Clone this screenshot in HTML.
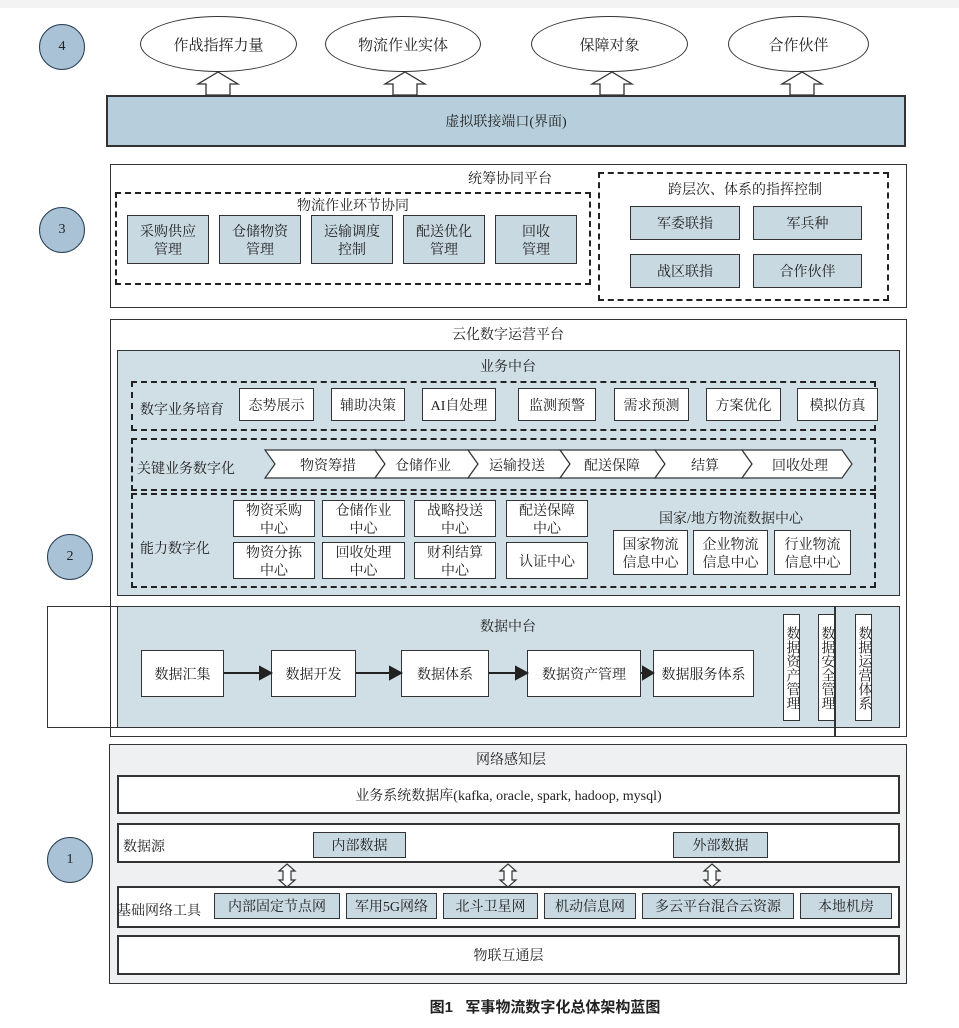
<!DOCTYPE html>
<html><head><meta charset="utf-8"><style>
*{margin:0;padding:0;box-sizing:border-box}
body{width:959px;height:1028px;background:#fff;position:relative;overflow:hidden;font-family:"Liberation Serif","Noto Serif CJK SC","Noto Sans CJK SC",serif;color:#222;font-size:14px}
.a{position:absolute}
.b{position:absolute;display:flex;align-items:center;justify-content:center;text-align:center;line-height:1.25;border:1.5px solid #333;padding-top:4px}
.f{background:#c8d9e2}
.w{background:#fff}
.d{position:absolute;border:2px dashed #222}
.t{position:absolute;transform:translateX(-50%);white-space:nowrap}
.c{position:absolute;width:46px;height:46px;border-radius:50%;background:#a9c2d6;border:1.5px solid #2a3f55;display:flex;align-items:center;justify-content:center;font-size:14px}
.e{position:absolute;border-radius:50%;border:1.5px solid #333;background:#fff;display:flex;align-items:center;justify-content:center;font-size:15px}
.v{writing-mode:vertical-rl;font-size:14px;padding-top:0;line-height:1}
svg.top{z-index:5}
</style></head><body>
<div class="a" style="left:0;top:0;width:959px;height:8px;background:#f3f3f3"></div>
<div class="c" style="left:39px;top:24px">4</div>
<div class="c" style="left:39px;top:207px">3</div>
<div class="c" style="left:47px;top:534px">2</div>
<div class="c" style="left:47px;top:837px">1</div>

<div class="e" style="left:140px;top:16px;width:157px;height:56px">作战指挥力量</div>
<div class="e" style="left:325px;top:16px;width:156px;height:56px">物流作业实体</div>
<div class="e" style="left:531px;top:16px;width:157px;height:56px">保障对象</div>
<div class="e" style="left:728px;top:16px;width:141px;height:56px">合作伙伴</div>
<div class="b" style="left:106px;top:95px;width:800px;height:52px;background:#b7cfdc;border-width:2px">虚拟联接端口(界面)</div>

<div class="b" style="left:110px;top:164px;width:797px;height:144px;background:#fff;border-width:1.5px"></div>
<div class="t" style="left:510px;top:168px">统筹协同平台</div>
<div class="d" style="left:115px;top:192px;width:476px;height:93px"></div>
<div class="t" style="left:353px;top:195px">物流作业环节协同</div>
<div class="b f" style="left:127px;top:215px;width:82px;height:49px">采购供应<br>管理</div>
<div class="b f" style="left:219px;top:215px;width:82px;height:49px">仓储物资<br>管理</div>
<div class="b f" style="left:311px;top:215px;width:82px;height:49px">运输调度<br>控制</div>
<div class="b f" style="left:403px;top:215px;width:82px;height:49px">配送优化<br>管理</div>
<div class="b f" style="left:495px;top:215px;width:82px;height:49px">回收<br>管理</div>
<div class="d" style="left:598px;top:172px;width:291px;height:129px"></div>
<div class="t" style="left:745px;top:179px">跨层次、体系的指挥控制</div>
<div class="b f" style="left:630px;top:206px;width:110px;height:34px">军委联指</div>
<div class="b f" style="left:753px;top:206px;width:109px;height:34px">军兵种</div>
<div class="b f" style="left:630px;top:254px;width:110px;height:34px">战区联指</div>
<div class="b f" style="left:753px;top:254px;width:109px;height:34px">合作伙伴</div>

<div class="b" style="left:110px;top:319px;width:797px;height:418px;background:#fff"></div>
<div class="t" style="left:508px;top:324px">云化数字运营平台</div>
<div class="b" style="left:117px;top:350px;width:783px;height:246px;background:#d0dfe6"></div>
<div class="t" style="left:508px;top:356px">业务中台</div>
<div class="d" style="left:131px;top:381px;width:745px;height:50px"></div>
<div class="a" style="left:140px;top:399px">数字业务培育</div>
<div class="b w" style="left:239px;top:388px;width:75px;height:33px">态势展示</div>
<div class="b w" style="left:331px;top:388px;width:74px;height:33px">辅助决策</div>
<div class="b w" style="left:422px;top:388px;width:74px;height:33px">AI自处理</div>
<div class="b w" style="left:518px;top:388px;width:78px;height:33px">监测预警</div>
<div class="b w" style="left:614px;top:388px;width:75px;height:33px">需求预测</div>
<div class="b w" style="left:706px;top:388px;width:75px;height:33px">方案优化</div>
<div class="b w" style="left:797px;top:388px;width:81px;height:33px">模拟仿真</div>
<div class="d" style="left:131px;top:438px;width:745px;height:53px"></div>
<div class="a" style="left:137px;top:458px">关键业务数字化</div>
<div class="d" style="left:131px;top:493px;width:745px;height:95px"></div>
<div class="a" style="left:140px;top:538px">能力数字化</div>
<div class="b w" style="left:233px;top:500px;width:82px;height:37px">物资采购<br>中心</div>
<div class="b w" style="left:322px;top:500px;width:83px;height:37px">仓储作业<br>中心</div>
<div class="b w" style="left:414px;top:500px;width:82px;height:37px">战略投送<br>中心</div>
<div class="b w" style="left:506px;top:500px;width:82px;height:37px">配送保障<br>中心</div>
<div class="b w" style="left:233px;top:542px;width:82px;height:37px">物资分拣<br>中心</div>
<div class="b w" style="left:322px;top:542px;width:83px;height:37px">回收处理<br>中心</div>
<div class="b w" style="left:414px;top:542px;width:82px;height:37px">财利结算<br>中心</div>
<div class="b w" style="left:506px;top:542px;width:82px;height:37px">认证中心</div>
<div class="t" style="left:731px;top:508px">国家/地方物流数据中心</div>
<div class="b w" style="left:613px;top:530px;width:75px;height:45px">国家物流<br>信息中心</div>
<div class="b w" style="left:693px;top:530px;width:75px;height:45px">企业物流<br>信息中心</div>
<div class="b w" style="left:774px;top:530px;width:77px;height:45px">行业物流<br>信息中心</div>

<div class="a" style="left:47px;top:606px;width:72px;height:122px;border:1.5px solid #333;border-right:none"></div>
<div class="b" style="left:117px;top:606px;width:783px;height:122px;background:#d0dfe6"></div>
<div class="t" style="left:508px;top:616px">数据中台</div>
<div class="b w" style="left:141px;top:650px;width:83px;height:47px">数据汇集</div>
<div class="b w" style="left:271px;top:650px;width:85px;height:47px">数据开发</div>
<div class="b w" style="left:401px;top:650px;width:88px;height:47px">数据体系</div>
<div class="b w" style="left:527px;top:650px;width:114px;height:47px">数据资产管理</div>
<div class="b w" style="left:653px;top:650px;width:101px;height:47px">数据服务体系</div>
<div class="b w v" style="left:783px;top:614px;width:17px;height:107px">数据资产管理</div>
<div class="b w v" style="left:818px;top:614px;width:17px;height:107px">数据安全管理</div>
<div class="b w v" style="left:855px;top:614px;width:17px;height:107px">数据运营体系</div>
<div class="a" style="left:834px;top:606px;width:1.5px;height:131px;background:#333"></div>

<div class="b" style="left:109px;top:744px;width:798px;height:240px;background:#eef0f1"></div>
<div class="t" style="left:511px;top:749px">网络感知层</div>
<div class="b w" style="left:117px;top:775px;width:783px;height:39px;border-width:2px">业务系统数据库(kafka, oracle, spark, hadoop, mysql)</div>
<div class="b w" style="left:117px;top:823px;width:783px;height:40px;border-width:2px"></div>
<div class="a" style="left:123px;top:836px">数据源</div>
<div class="b f" style="left:313px;top:832px;width:93px;height:26px">内部数据</div>
<div class="b f" style="left:673px;top:832px;width:95px;height:26px">外部数据</div>
<div class="b w" style="left:117px;top:886px;width:783px;height:42px;border-width:2px"></div>
<div class="a" style="left:117px;top:900px">基础网络工具</div>
<div class="b f" style="left:214px;top:893px;width:126px;height:26px">内部固定节点网</div>
<div class="b f" style="left:346px;top:893px;width:91px;height:26px">军用5G网络</div>
<div class="b f" style="left:443px;top:893px;width:95px;height:26px">北斗卫星网</div>
<div class="b f" style="left:544px;top:893px;width:92px;height:26px">机动信息网</div>
<div class="b f" style="left:642px;top:893px;width:152px;height:26px">多云平台混合云资源</div>
<div class="b f" style="left:800px;top:893px;width:92px;height:26px">本地机房</div>
<div class="b w" style="left:117px;top:935px;width:783px;height:40px;border-width:2px">物联互通层</div>

<svg class="a top" style="left:0;top:0" width="959" height="1028">
<g fill="#fff" stroke="#333" stroke-width="1.3">
<polygon points="206,95 206,84 198,84 218,72 238,84 230,84 230,95"/>
<polygon points="393,95 393,84 385,84 405,72 425,84 417,84 417,95"/>
<polygon points="600,95 600,84 592,84 612,72 632,84 624,84 624,95"/>
<polygon points="790,95 790,84 782,84 802,72 822,84 814,84 814,95"/>
</g>
<g fill="#fff" stroke="#333" stroke-width="1.2">
<polygon points="265,450 375,450 385,464 375,478 265,478 275,464"/>
<polygon points="375,450 468,450 478,464 468,478 375,478 385,464"/>
<polygon points="468,450 560,450 570,464 560,478 468,478 478,464"/>
<polygon points="560,450 655,450 665,464 655,478 560,478 570,464"/>
<polygon points="655,450 742,450 752,464 742,478 655,478 665,464"/>
<polygon points="742,450 842,450 852,464 842,478 742,478 752,464"/>
</g>
<g font-size="14" text-anchor="middle" fill="#222" font-family="Liberation Serif, Noto Serif CJK SC, serif">
<text x="328" y="470">物资筹措</text><text x="423" y="470">仓储作业</text><text x="517" y="470">运输投送</text>
<text x="612" y="470">配送保障</text><text x="705" y="470">结算</text><text x="800" y="470">回收处理</text>
</g>
<g fill="#fff" stroke="#333" stroke-width="1.2">
<polygon points="287,864 295,871 291,871 291,880 295,880 287,887 279,880 283,880 283,871 279,871"/>
<polygon points="508,864 516,871 512,871 512,880 516,880 508,887 500,880 504,880 504,871 500,871"/>
<polygon points="712,864 720,871 716,871 716,880 720,880 712,887 704,880 708,880 708,871 704,871"/>
</g>
<g stroke="#222" stroke-width="2" fill="#222">
<line x1="224" y1="673" x2="262" y2="673"/><polygon points="271,673 260,667 260,679"/>
<line x1="356" y1="673" x2="392" y2="673"/><polygon points="401,673 390,667 390,679"/>
<line x1="489" y1="673" x2="518" y2="673"/><polygon points="527,673 516,667 516,679"/>
<line x1="641" y1="673" x2="645" y2="673"/><polygon points="653,673 643,667 643,679"/>
</g>
</svg>

<div class="t" style="left:545px;top:996px;font-weight:bold;font-size:15px;font-family:'Liberation Sans','Noto Sans CJK SC',sans-serif">图1&nbsp;&nbsp;&nbsp;军事物流数字化总体架构蓝图</div>
</body></html>
